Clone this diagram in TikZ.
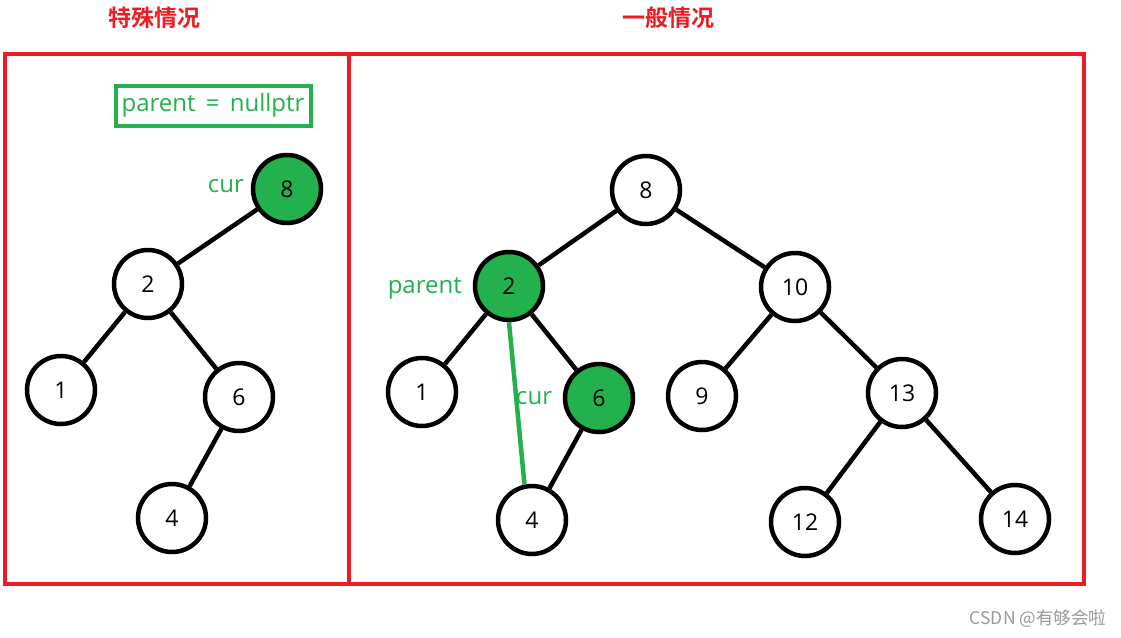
\documentclass[tikz,border=0pt]{standalone}
\usepackage{fontspec}
\setmainfont{Open Sans}
\newfontfamily\cjk{Noto Sans CJK SC}
\newfontfamily\cjkb{Noto Sans CJK SC Bold}
\definecolor{pred}{RGB}{237,28,36}
\definecolor{pgreen}{RGB}{34,177,76}
\begin{document}
\begin{tikzpicture}[x=1pt,y=-1pt,
  tn/.style={circle,draw=black,line width=4.5pt,minimum size=68pt,inner sep=0pt,font=\fontsize{23}{23}\selectfont,fill=white},
  gn/.style={tn,fill=pgreen},
  edge/.style={line width=4.5pt,black},
  gedge/.style={line width=4.5pt,pgreen},
  lab/.style={text=pgreen,font=\fontsize{24}{24}\selectfont,inner sep=0pt},
  frame/.style={draw=pred,line width=4pt},
  ttl/.style={text=pred,font=\cjkb\fontsize{23}{23}\selectfont,inner sep=0pt}]
\useasboundingbox (0,0) rectangle (1121,637);
\fill[white] (0,0) rectangle (1121,637);
% frames
\draw[frame] (5,54) rectangle (1084,584);
\draw[frame] (349,54) -- (349,584);
% titles
\node[ttl] (t1) at (154,18) {特殊情况};
\node[ttl] (t2) at (668,18) {一般情况};
% left tree
\node[draw=pgreen,line width=4pt,text=pgreen,font=\fontsize{24}{24}\selectfont,minimum width=195pt,minimum height=40pt,inner sep=0pt] (box) at (213,105.5) {parent \,=\, nullptr};
\node[gn] (l8) at (287,189) {8};
\node[tn] (l2) at (148,284) {2};
\node[tn] (l1) at (61,390) {1};
\node[tn] (l6) at (239,397) {6};
\node[tn] (l4) at (172,518) {4};
\node[lab,anchor=east] (lcur) at (244,186) {cur};
\draw[edge] (l8) -- (l2);
\draw[edge] (l2) -- (l1);
\draw[edge] (l2) -- (l6);
\draw[edge] (l6) -- (l4);
% right tree
\node[tn] (r8) at (646,190) {8};
\node[gn] (r2) at (509,286) {2};
\node[tn] (r10) at (795,287) {10};
\node[tn] (r1) at (422,392) {1};
\node[gn] (r6) at (599,398) {6};
\node[tn] (r9) at (702,396) {9};
\node[tn] (r13) at (902,393) {13};
\node[tn] (r4) at (532,520) {4};
\node[tn] (r12) at (805,522) {12};
\node[tn] (r14) at (1015,519) {14};
\node[lab,anchor=east] (rpar) at (462,288) {parent};
\node[lab,anchor=west] (rcur) at (516,398) {cur};
\draw[edge] (r8) -- (r2);
\draw[edge] (r8) -- (r10);
\draw[edge] (r2) -- (r1);
\draw[edge] (r2) -- (r6);
\draw[edge] (r6) -- (r4);
\draw[edge] (r10) -- (r9);
\draw[edge] (r10) -- (r13);
\draw[edge] (r13) -- (r12);
\draw[edge] (r13) -- (r14);
\draw[gedge] (r2.south) -- (r4.102);
% watermark
\node[text=gray!80,font=\cjk\fontsize{17.5}{17.5}\selectfont,inner sep=0pt] (wm) at (1038,619) {CSDN @有够会啦};
\end{tikzpicture}
\end{document}
